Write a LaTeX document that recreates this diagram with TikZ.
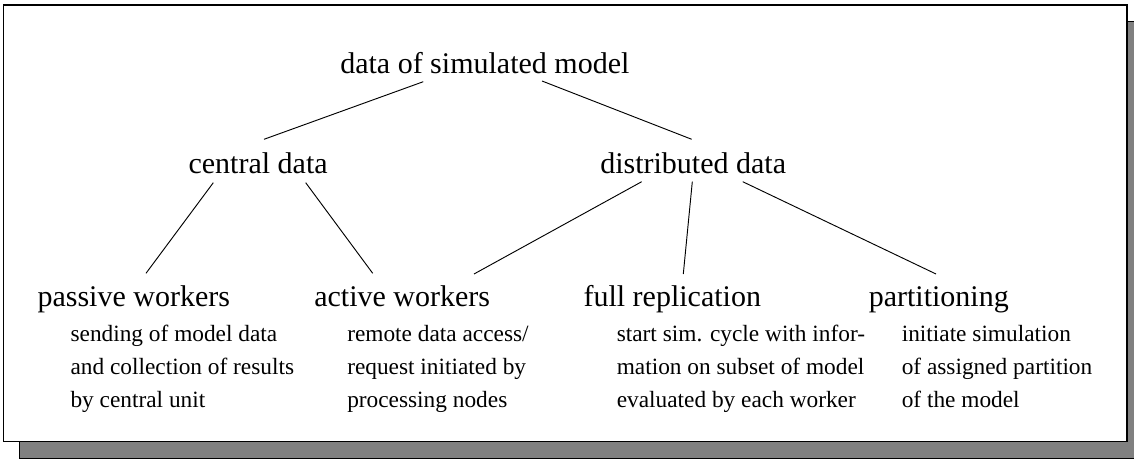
\documentclass[tikz,border=0pt]{standalone}
\usepackage{fontspec}
\setmainfont{Liberation Serif}
\usetikzlibrary{calc}
\definecolor{shadowgray}{RGB}{128,128,128}
\begin{document}
\begin{tikzpicture}[x=0.75pt,y=-0.75pt,
  head/.style={anchor=base west, inner sep=0pt, font=\fontsize{22.5}{27}\selectfont},
  desc/.style={anchor=base west, inner sep=0pt, font=\fontsize{17.5}{24.6}\selectfont},
  link/.style={draw=black, line width=0.7pt},
  frame/.style={draw=black, line width=0.8pt}]
\useasboundingbox (0,0) rectangle (1134,459);

% drop shadow and frame
\fill[shadowgray, frame] (19.5,21.7) rectangle (1143,458.3);
\filldraw[fill=white, frame] (3.3,5) rectangle (1127,441.7);

% tree levels
\node[head] (root)    at (340,73.3)    {data of simulated model};
\node[head] (central) at (188.3,173.3) {central data};
\node[head] (distrib) at (600,173.3)   {distributed data};
\node[head] (passive) at (37.3,307)    {passive workers};
\node[head] (active)  at (314,307)     {active workers};
\node[head] (full)    at (583.3,307)   {full replication};
\node[head] (part)    at (868.5,307)   {partitioning};

% descriptions under the leaves
\node[desc] (pw1) at (70.3,341.7) {sending of model data};
\node[desc] (pw2) at (70.3,374.3) {and collection of results};
\node[desc] (pw3) at (70.3,407)   {by central unit};
\node[desc] (aw1) at (347,341.7)  {remote data access/};
\node[desc] (aw2) at (347,374.3)  {request initiated by};
\node[desc] (aw3) at (347,407)    {processing nodes};
\node[desc] (fr1) at (616.5,341.7) {start sim. cycle with infor-};
\node[desc] (fr2) at (616.5,374.3) {mation on subset of model};
\node[desc] (fr3) at (616.5,407)   {evaluated by each worker};
\node[desc] (pa1) at (901.5,341.7) {initiate simulation};
\node[desc] (pa2) at (901.5,374.3) {of assigned partition};
\node[desc] (pa3) at (901.5,407)   {of the model};

% connectors
\draw[link] ($(root.base west)+(83.3,8.4)$) -- ($(central.base west)+(75.7,-34)$);
\draw[link] ($(root.base west)+(202,7.7)$) -- ($(distrib.base west)+(91.7,-34)$);
\draw[link] ($(central.base west)+(25,9.4)$) -- ($(passive.base west)+(108.7,-33.7)$);
\draw[link] ($(central.base west)+(117.4,9.4)$) -- ($(active.base west)+(58.7,-33.7)$);
\draw[link] ($(distrib.base west)+(41.7,8.4)$) -- ($(active.base west)+(160,-33)$);
\draw[link] ($(distrib.base west)+(92.3,8.4)$) -- ($(full.base west)+(100,-33)$);
\draw[link] ($(distrib.base west)+(142.7,8.4)$) -- ($(part.base west)+(67.5,-33)$);
\end{tikzpicture}
\end{document}
